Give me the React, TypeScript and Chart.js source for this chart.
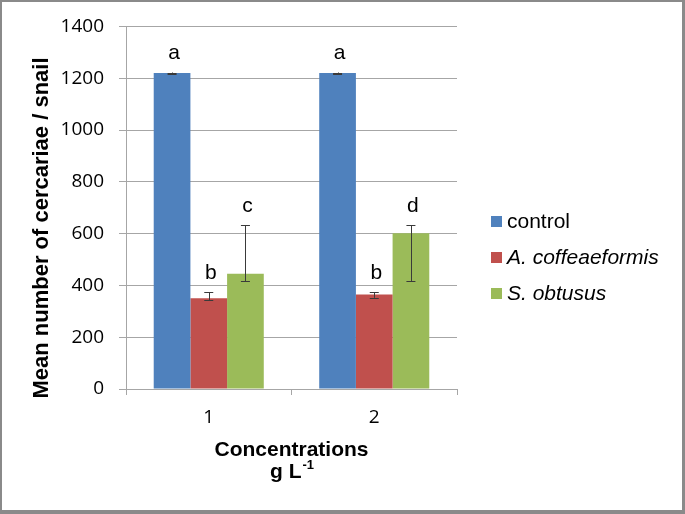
import React, { useEffect, useRef } from 'react';
import { Chart, registerables } from 'chart.js';

Chart.register(...registerables);

const categories = ['1', '2'];
const seriesNames = ['control', 'A. coffeaeformis', 'S. obtusus'];
const seriesItalic = [false, true, true];
const seriesColors = ['#4f81bd', '#c0504d', '#9bbb59'];

const controlValues = [1220, 1220];
const coffeaeformisValues = [350, 365];
const obtususValues = [445, 601];

const controlErrLow = [1218, 1218];
const controlErrHigh = [1222, 1222];
const coffeaeformisErrLow = [343, 352];
const coffeaeformisErrHigh = [373, 374];
const obtususErrLow = [416, 416];
const obtususErrHigh = [633, 633];

const controlLetters = ['a', 'a'];
const coffeaeformisLetters = ['b', 'b'];
const obtususLetters = ['c', 'd'];

const yMin = 0;
const yMax = 1400;
const yStep = 200;

const yTitle = 'Mean number of cercariae / snail';
const xTitle = 'Concentrations';
const xUnit = 'g L';
const xUnitSup = '-1';

const errLows = [controlErrLow, coffeaeformisErrLow, obtususErrLow];
const errHighs = [controlErrHigh, coffeaeformisErrHigh, obtususErrHigh];
const letters = [controlLetters, coffeaeformisLetters, obtususLetters];

const SANS = '"Liberation Sans", Arial, sans-serif';

const decorPlugin = {
  id: 'decor',
  beforeDraw(chart: any) {
    const { ctx, width, height } = chart;
    ctx.save();
    ctx.fillStyle = '#8a8a8a';
    ctx.fillRect(0, 0, width, height);
    ctx.fillStyle = '#ffffff';
    ctx.fillRect(2, 2, width - 5, height - 6);
    ctx.restore();
  },
  afterDatasetsDraw(chart: any) {
    const { ctx } = chart;
    const yScale = chart.scales.y;
    ctx.save();
    chart.data.datasets.forEach((ds: any, i: number) => {
      const meta = chart.getDatasetMeta(i);
      meta.data.forEach((bar: any, j: number) => {
        const x = bar.x;
        const yH = yScale.getPixelForValue(errHighs[i][j]);
        const yL = yScale.getPixelForValue(errLows[i][j]);
        ctx.strokeStyle = '#3a3a3a';
        ctx.lineWidth = 1;
        ctx.beginPath();
        ctx.moveTo(Math.round(x) + 0.5, yH);
        ctx.lineTo(Math.round(x) + 0.5, yL);
        ctx.moveTo(x - 4.5, Math.round(yH) + 0.5);
        ctx.lineTo(x + 4.5, Math.round(yH) + 0.5);
        ctx.moveTo(x - 4.5, Math.round(yL) + 0.5);
        ctx.lineTo(x + 4.5, Math.round(yL) + 0.5);
        ctx.stroke();
        ctx.fillStyle = '#000000';
        ctx.font = `21px ${SANS}`;
        ctx.textAlign = 'center';
        ctx.textBaseline = 'middle';
        ctx.fillText(letters[i][j], x + 2, yH - 19);
      });
    });
    ctx.restore();
  },
  afterDraw(chart: any) {
    const { ctx, chartArea } = chart;
    ctx.save();
    ctx.fillStyle = '#000000';
    ctx.font = `bold 22px ${SANS}`;
    ctx.textAlign = 'center';
    ctx.textBaseline = 'middle';
    ctx.translate(42, 228);
    ctx.rotate(-Math.PI / 2);
    ctx.fillText(yTitle, 0, 0);
    ctx.restore();

    ctx.save();
    const cx = (chartArea.left + chartArea.right) / 2;
    ctx.fillStyle = '#000000';
    ctx.font = `bold 21px ${SANS}`;
    ctx.textAlign = 'center';
    ctx.textBaseline = 'alphabetic';
    ctx.fillText(xTitle, cx, 456);
    const w1 = ctx.measureText(xUnit).width;
    ctx.font = `bold 13px ${SANS}`;
    const w2 = ctx.measureText(xUnitSup).width;
    const start = cx - (w1 + w2) / 2;
    ctx.textAlign = 'left';
    ctx.font = `bold 21px ${SANS}`;
    ctx.fillText(xUnit, start, 478);
    ctx.font = `bold 13px ${SANS}`;
    ctx.fillText(xUnitSup, start + w1 + 1, 469);
    ctx.restore();

    ctx.save();
    chart.data.datasets.forEach((ds: any, i: number) => {
      const yc = 221 + i * 36;
      ctx.fillStyle = ds.backgroundColor;
      ctx.fillRect(491, yc - 5, 11, 11);
      ctx.fillStyle = '#000000';
      ctx.font = `${seriesItalic[i] ? 'italic ' : ''}21px ${SANS}`;
      ctx.textAlign = 'left';
      ctx.textBaseline = 'middle';
      ctx.fillText(ds.label, 507, yc + 1);
    });
    ctx.restore();
  },
};

export default function App() {
  const ref = useRef<HTMLCanvasElement>(null);
  useEffect(() => {
    if (!ref.current) return;
    const valueSets = [controlValues, coffeaeformisValues, obtususValues];
    const chart = new Chart(ref.current, {
      type: 'bar',
      data: {
        labels: categories,
        datasets: seriesNames.map((name, i) => ({
          label: name,
          data: valueSets[i],
          backgroundColor: seriesColors[i],
          borderWidth: 0,
          categoryPercentage: 0.665,
          barPercentage: 1,
        })),
      },
      options: {
        responsive: false,
        animation: false,
        layout: { padding: { left: 0, right: 228, top: 25, bottom: 0 } },
        plugins: {
          legend: { display: false },
          tooltip: { enabled: false },
        },
        scales: {
          x: {
            grid: {
              display: true,
              drawOnChartArea: false,
              drawTicks: true,
              tickLength: 6,
              color: '#a6a6a6',
              offset: true,
            },
            border: { color: '#a6a6a6', width: 1 },
            ticks: {
              color: '#000000',
              font: { family: 'Open Sans', size: 19 },
              padding: 11,
            },
            afterFit: (s: any) => {
              s.height = 125;
            },
          },
          y: {
            min: yMin,
            max: yMax,
            grid: { color: '#a6a6a6', tickLength: 7, drawTicks: true },
            border: { color: '#a6a6a6', width: 1 },
            ticks: {
              stepSize: yStep,
              color: '#000000',
              font: { family: 'Open Sans', size: 19 },
              padding: 15,
              callback: (v: any) => String(v),
            },
            afterFit: (s: any) => {
              s.width = 126;
            },
          },
        },
      },
      plugins: [decorPlugin],
    });
    return () => chart.destroy();
  }, []);
  return (
    <div style={{ position: 'absolute', left: 0, top: 0, width: 685, height: 514 }}>
      <canvas ref={ref} width={685} height={514} style={{ display: 'block' }} />
    </div>
  );
}
